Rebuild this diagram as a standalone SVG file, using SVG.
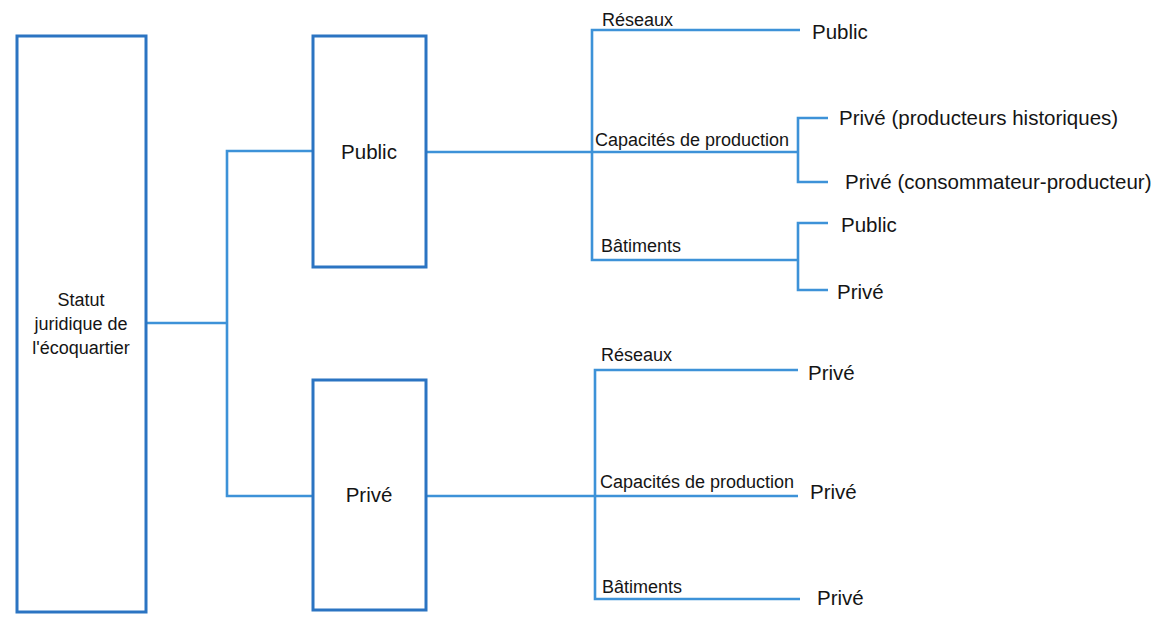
<svg xmlns="http://www.w3.org/2000/svg" width="1170" height="624" viewBox="0 0 1170 624">
<style>
.box{fill:#fff;stroke:#2b74c2;stroke-width:3}
.ln{fill:none;stroke:#3d92d8;stroke-width:2.6}
.t{font-family:"Liberation Sans",Arial,sans-serif;fill:#151515}
.big{font-size:20.5px}
.sm{font-size:18px}
</style>
<rect width="1170" height="624" fill="#fff"/>
<g id="connectors">
<polyline class="ln" points="146,323 227,323"/>
<polyline class="ln" points="313,151 227,151 227,496 313,496"/>
<polyline class="ln" points="426,152 592,152"/>
<polyline class="ln" points="800,30 592,30 592,260 797,260"/>
<polyline class="ln" points="592,152 798,152"/>
<polyline class="ln" points="828,118 798,118 798,182 828,182"/>
<polyline class="ln" points="828,223 798,223 798,290 828,290"/>
<polyline class="ln" points="426,496 595,496"/>
<polyline class="ln" points="798,370 595,370 595,599 800,599"/>
<polyline class="ln" points="595,496 798,496"/>
</g>
<g id="n-statut">
<rect class="box" x="17" y="36" width="129" height="576"/>
<text class="t sm" text-anchor="middle"><tspan x="81" y="306">Statut</tspan><tspan x="81" y="330">juridique de</tspan><tspan x="81" y="354">l'écoquartier</tspan></text>
</g>
<g id="n-public">
<rect class="box" x="313" y="36" width="113" height="231"/>
<text class="t big" x="369" y="159" text-anchor="middle">Public</text>
</g>
<g id="n-prive">
<rect class="box" x="313" y="380" width="113" height="230"/>
<text class="t big" x="369" y="502" text-anchor="middle">Privé</text>
</g>
<g id="l-pub-reseaux"><text class="t sm" x="602" y="26">Réseaux</text></g>
<g id="l-pub-capacites"><text class="t sm" x="595" y="146">Capacités de production</text></g>
<g id="l-pub-batiments"><text class="t sm" x="601" y="252">Bâtiments</text></g>
<g id="n-pub-reseaux-public"><text class="t big" x="812" y="39">Public</text></g>
<g id="n-pub-cap-prive1"><text class="t big" x="839" y="125">Privé (producteurs historiques)</text></g>
<g id="n-pub-cap-prive2"><text class="t big" x="845" y="189">Privé (consommateur-producteur)</text></g>
<g id="n-pub-bat-public"><text class="t big" x="841" y="232">Public</text></g>
<g id="n-pub-bat-prive"><text class="t big" x="837" y="299">Privé</text></g>
<g id="l-prv-reseaux"><text class="t sm" x="601" y="361">Réseaux</text></g>
<g id="l-prv-capacites"><text class="t sm" x="600" y="488">Capacités de production</text></g>
<g id="l-prv-batiments"><text class="t sm" x="602" y="593">Bâtiments</text></g>
<g id="n-prv-reseaux-prive"><text class="t big" x="808" y="380">Privé</text></g>
<g id="n-prv-cap-prive"><text class="t big" x="810" y="499">Privé</text></g>
<g id="n-prv-bat-prive"><text class="t big" x="817" y="605">Privé</text></g>
</svg>
